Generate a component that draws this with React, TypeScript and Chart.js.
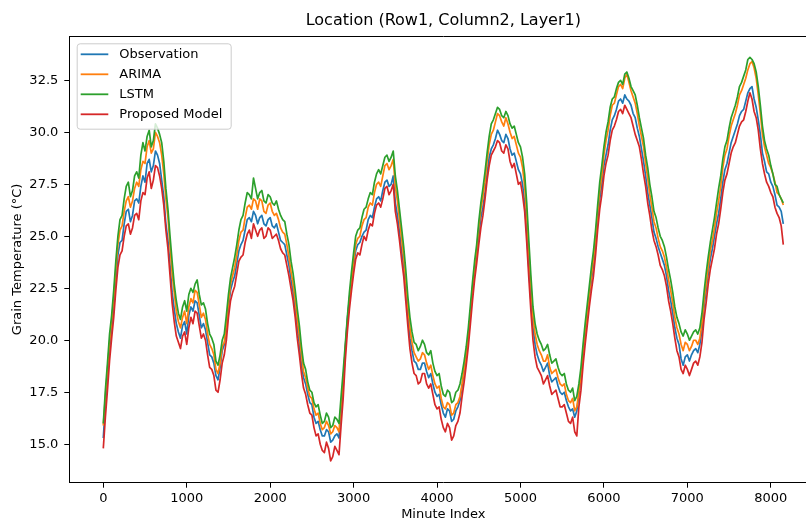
import React, { useEffect, useRef } from "react";
import { Chart, registerables } from "chart.js";

Chart.register(...registerables);

const minuteIndex = [
  0, 25, 50, 75, 100, 125, 150, 175, 200, 225, 250, 275, 300, 325, 350, 375, 400, 425, 450, 475,
  500, 525, 550, 575, 600, 625, 650, 675, 700, 725, 750, 775, 800, 825, 850, 875, 900, 925, 950, 975,
  1000, 1025, 1050, 1075, 1100, 1125, 1150, 1175, 1200, 1225, 1250, 1275, 1300, 1325, 1350, 1375, 1400, 1425, 1450, 1475,
  1500, 1525, 1550, 1575, 1600, 1625, 1650, 1675, 1700, 1725, 1750, 1775, 1800, 1825, 1850, 1875, 1900, 1925, 1950, 1975,
  2000, 2025, 2050, 2075, 2100, 2125, 2150, 2175, 2200, 2225, 2250, 2275, 2300, 2325, 2350, 2375, 2400, 2425, 2450, 2475,
  2500, 2525, 2550, 2575, 2600, 2625, 2650, 2675, 2700, 2725, 2750, 2775, 2800, 2825, 2850, 2875, 2900, 2925, 2950, 2975,
  3000, 3025, 3050, 3075, 3100, 3125, 3150, 3175, 3200, 3225, 3250, 3275, 3300, 3325, 3350, 3375, 3400, 3425, 3450, 3475,
  3500, 3525, 3550, 3575, 3600, 3625, 3650, 3675, 3700, 3725, 3750, 3775, 3800, 3825, 3850, 3875, 3900, 3925, 3950, 3975,
  4000, 4025, 4050, 4075, 4100, 4125, 4150, 4175, 4200, 4225, 4250, 4275, 4300, 4325, 4350, 4375, 4400, 4425, 4450, 4475,
  4500, 4525, 4550, 4575, 4600, 4625, 4650, 4675, 4700, 4725, 4750, 4775, 4800, 4825, 4850, 4875, 4900, 4925, 4950, 4975,
  5000, 5025, 5050, 5075, 5100, 5125, 5150, 5175, 5200, 5225, 5250, 5275, 5300, 5325, 5350, 5375, 5400, 5425, 5450, 5475,
  5500, 5525, 5550, 5575, 5600, 5625, 5650, 5675, 5700, 5725, 5750, 5775, 5800, 5825, 5850, 5875, 5900, 5925, 5950, 5975,
  6000, 6025, 6050, 6075, 6100, 6125, 6150, 6175, 6200, 6225, 6250, 6275, 6300, 6325, 6350, 6375, 6400, 6425, 6450, 6475,
  6500, 6525, 6550, 6575, 6600, 6625, 6650, 6675, 6700, 6725, 6750, 6775, 6800, 6825, 6850, 6875, 6900, 6925, 6950, 6975,
  7000, 7025, 7050, 7075, 7100, 7125, 7150, 7175, 7200, 7225, 7250, 7275, 7300, 7325, 7350, 7375, 7400, 7425, 7450, 7475,
  7500, 7525, 7550, 7575, 7600, 7625, 7650, 7675, 7700, 7725, 7750, 7775, 7800, 7825, 7850, 7875, 7900, 7925, 7950, 7975,
  8000, 8025, 8050, 8075, 8100, 8125, 8150,
];

const observation = [
  15.3, 16.9, 18.2, 19.6, 20.6, 21.5, 22.9, 24.1, 24.7, 24.8, 25.6, 26.2, 26.3, 25.7, 26.0, 26.7, 26.8, 26.6, 27.4, 27.9,
  27.6, 28.5, 28.7, 28.1, 28.4, 29.1, 28.9, 28.5, 27.7, 26.9, 25.6, 24.8, 23.6, 22.3, 21.5, 20.8, 20.4, 20.1, 20.7, 20.9,
  20.3, 21.2, 21.6, 21.4, 21.9, 21.8, 21.2, 20.6, 20.8, 20.5, 19.9, 19.3, 19.2, 18.9, 18.3, 18.1, 18.7, 19.5, 19.8, 20.5,
  21.6, 22.4, 22.8, 23.1, 23.7, 24.3, 24.6, 24.8, 25.3, 25.8, 25.9, 25.7, 26.2, 26.0, 25.6, 25.9, 26.0, 25.6, 25.5, 25.8,
  25.9, 25.5, 25.4, 25.6, 25.2, 24.8, 24.7, 24.6, 24.1, 23.6, 22.9, 22.3, 21.5, 20.6, 19.8, 18.8, 18.2, 17.9, 17.4, 17.0,
  16.9, 16.3, 16.0, 16.1, 15.7, 15.4, 15.4, 15.7, 15.6, 15.1, 15.2, 15.4, 15.5, 15.3, 16.6, 17.8, 19.6, 21.0, 22.0, 22.9,
  23.6, 24.3, 24.6, 24.7, 25.0, 25.2, 25.3, 25.8, 26.0, 25.9, 26.4, 26.8, 26.9, 26.7, 27.2, 27.6, 27.7, 27.4, 27.5, 27.9,
  26.6, 26.0, 25.2, 24.3, 23.6, 22.5, 21.2, 20.1, 19.5, 19.0, 18.9, 18.6, 18.6, 18.9, 18.9, 18.5, 18.2, 18.4, 17.9, 17.5,
  17.3, 17.4, 16.9, 16.5, 16.3, 16.7, 16.6, 16.1, 16.2, 16.6, 16.8, 17.1, 17.8, 18.5, 19.2, 20.1, 21.2, 22.4, 23.3, 24.1,
  25.0, 25.9, 26.4, 27.1, 28.0, 28.8, 29.2, 29.4, 29.7, 30.1, 29.9, 29.6, 29.5, 29.9, 29.7, 29.2, 28.9, 29.0, 28.6, 28.2,
  28.0, 27.5, 26.6, 25.2, 23.5, 21.9, 20.6, 19.8, 19.3, 19.0, 18.8, 18.5, 18.7, 18.9, 18.3, 18.0, 18.1, 18.2, 17.8, 17.5,
  17.4, 17.5, 17.1, 16.8, 16.6, 16.7, 16.3, 16.6, 17.4, 18.2, 19.3, 20.3, 21.2, 22.1, 22.9, 23.6, 24.6, 25.8, 26.8, 27.5,
  28.4, 28.9, 29.4, 30.1, 30.6, 30.8, 31.1, 31.5, 31.6, 31.4, 31.8, 31.6, 31.5, 31.3, 30.9, 30.7, 30.2, 29.8, 29.2, 28.6,
  27.9, 27.1, 26.5, 25.9, 25.2, 24.9, 24.5, 24.2, 23.9, 23.6, 23.1, 22.4, 21.9, 21.3, 20.6, 20.1, 19.8, 19.1, 18.8, 19.2,
  19.3, 19.0, 19.3, 19.5, 19.6, 19.4, 19.8, 20.5, 21.6, 22.4, 23.2, 23.9, 24.4, 25.0, 25.6, 26.1, 26.8, 27.6, 28.2, 28.5,
  29.0, 29.5, 29.8, 30.1, 30.4, 30.8, 31.0, 31.1, 31.5, 31.9, 32.1, 32.2, 31.6, 31.2, 30.6, 29.9, 29.0, 28.6, 28.1, 28.0,
  27.6, 27.4, 27.0, 26.5, 26.4, 26.2, 25.6,
];

const arima = [
  15.9, 17.3, 18.6, 19.9, 20.9, 22.0, 23.4, 24.6, 25.3, 25.5, 26.2, 26.7, 26.9, 26.4, 26.7, 27.3, 27.6, 27.4, 28.2, 28.6,
  28.5, 29.3, 29.6, 29.0, 29.2, 30.0, 29.8, 29.5, 28.9, 28.0, 26.8, 25.9, 24.5, 23.2, 22.3, 21.4, 20.9, 20.6, 21.1, 21.4,
  20.8, 21.6, 22.0, 21.8, 22.4, 22.3, 21.7, 21.1, 21.3, 21.0, 20.3, 19.8, 19.6, 19.3, 18.6, 18.4, 18.9, 19.7, 19.9, 20.7,
  21.8, 22.7, 23.1, 23.5, 24.1, 24.8, 25.2, 25.3, 25.9, 26.4, 26.5, 26.3, 26.8, 26.7, 26.3, 26.8, 26.7, 26.2, 26.1, 26.5,
  26.6, 26.2, 26.0, 26.1, 25.8, 25.4, 25.2, 25.1, 24.6, 24.0, 23.3, 22.7, 21.9, 21.0, 20.2, 19.3, 18.5, 18.2, 17.7, 17.3,
  17.2, 16.7, 16.4, 16.5, 16.0, 15.7, 15.8, 16.1, 15.9, 15.5, 15.6, 15.9, 15.8, 15.6, 16.9, 18.0, 19.5, 20.8, 21.9, 22.9,
  23.8, 24.6, 24.9, 25.0, 25.5, 25.8, 25.9, 26.4, 26.6, 26.5, 27.1, 27.5, 27.6, 27.4, 27.9, 28.4, 28.5, 28.2, 28.4, 28.7,
  27.4, 26.7, 25.8, 24.9, 24.0, 22.9, 21.6, 20.6, 19.9, 19.4, 19.2, 19.0, 19.1, 19.4, 19.3, 18.9, 18.6, 18.8, 18.3, 17.9,
  17.7, 17.8, 17.2, 16.8, 16.7, 17.0, 16.9, 16.4, 16.5, 16.9, 17.0, 17.3, 17.9, 18.6, 19.3, 20.2, 21.3, 22.5, 23.5, 24.3,
  25.4, 26.3, 26.9, 27.6, 28.6, 29.4, 29.9, 30.1, 30.5, 30.9, 30.8, 30.5, 30.3, 30.7, 30.4, 30.0, 29.7, 29.8, 29.4, 29.0,
  28.8, 28.3, 27.4, 26.0, 24.2, 22.6, 21.1, 20.3, 19.8, 19.5, 19.3, 19.0, 19.0, 19.3, 18.7, 18.4, 18.5, 18.6, 18.2, 17.9,
  17.8, 17.9, 17.4, 17.1, 17.0, 17.2, 16.6, 16.8, 17.5, 18.3, 19.4, 20.4, 21.3, 22.2, 23.1, 23.9, 24.9, 26.1, 27.2, 27.9,
  28.9, 29.6, 30.1, 30.8, 31.3, 31.4, 31.8, 32.2, 32.3, 32.1, 32.6, 32.8, 32.4, 32.0, 31.7, 31.4, 30.9, 30.3, 29.8, 29.3,
  28.5, 27.8, 27.0, 26.4, 25.7, 25.4, 24.9, 24.5, 24.3, 24.0, 23.5, 22.9, 22.4, 21.8, 21.1, 20.6, 20.3, 19.8, 19.5, 19.9,
  19.8, 19.5, 19.7, 20.0, 20.0, 19.8, 20.1, 20.8, 21.9, 22.7, 23.5, 24.3, 24.8, 25.4, 26.1, 26.7, 27.4, 28.3, 28.9, 29.2,
  29.8, 30.3, 30.6, 30.9, 31.3, 31.8, 32.0, 32.3, 32.6, 33.0, 33.3, 33.4, 33.1, 32.6, 31.8, 30.9, 29.9, 29.3, 28.9, 28.5,
  28.3, 28.0, 27.6, 27.1, 27.0, 26.8, 26.5,
];

const lstm = [
  16.0, 17.6, 18.9, 20.3, 21.2, 22.4, 23.8, 25.0, 25.8, 26.0, 26.8, 27.4, 27.6, 26.9, 27.2, 27.9, 28.1, 27.8, 28.9, 29.5,
  29.1, 29.8, 30.1, 29.3, 29.6, 30.4, 30.2, 29.9, 29.5, 28.6, 27.3, 26.3, 25.0, 23.8, 22.7, 21.9, 21.3, 21.0, 21.6, 21.9,
  21.4, 22.2, 22.5, 22.3, 22.7, 22.9, 22.2, 21.7, 21.8, 21.5, 20.8, 20.3, 20.1, 19.8, 19.0, 18.8, 19.3, 20.0, 20.3, 21.2,
  22.2, 23.0, 23.5, 24.0, 24.6, 25.3, 25.8, 26.0, 26.6, 27.1, 27.0, 26.8, 27.8, 27.3, 26.8, 27.1, 27.2, 26.7, 26.6, 27.0,
  26.9, 26.6, 26.5, 26.7, 26.3, 26.0, 25.8, 25.7, 25.1, 24.6, 23.8, 23.2, 22.4, 21.5, 20.7, 19.7, 18.9, 18.6, 18.0, 17.6,
  17.5, 17.0, 16.8, 16.9, 16.4, 16.0, 16.1, 16.5, 16.3, 15.8, 15.9, 16.3, 16.2, 16.0, 17.3, 18.5, 19.8, 21.1, 22.3, 23.3,
  24.2, 25.0, 25.3, 25.4, 25.9, 26.3, 26.4, 26.8, 27.1, 27.0, 27.6, 28.0, 28.2, 28.0, 28.4, 28.8, 28.9, 28.6, 28.8, 29.1,
  27.9, 27.2, 26.3, 25.4, 24.5, 23.4, 22.1, 21.1, 20.4, 19.9, 19.8, 19.5, 19.7, 20.0, 19.8, 19.4, 19.3, 19.5, 18.9, 18.5,
  18.3, 18.4, 17.8, 17.4, 17.3, 17.6, 17.5, 17.0, 17.1, 17.5, 17.6, 17.9, 18.4, 19.0, 19.7, 20.6, 21.7, 22.8, 23.8, 24.6,
  25.7, 26.6, 27.3, 28.1, 29.0, 29.8, 30.4, 30.6, 30.9, 31.2, 31.1, 30.8, 30.7, 31.0, 30.8, 30.4, 30.2, 30.3, 29.9, 29.5,
  29.3, 28.8, 28.0, 26.6, 24.8, 23.1, 21.6, 20.8, 20.3, 20.0, 19.8, 19.5, 19.6, 19.8, 19.3, 18.9, 19.0, 19.1, 18.7, 18.4,
  18.3, 18.4, 17.9, 17.6, 17.5, 17.7, 17.1, 17.3, 17.9, 18.7, 19.8, 20.8, 21.7, 22.6, 23.5, 24.3, 25.3, 26.5, 27.6, 28.4,
  29.3, 30.0, 30.5, 31.2, 31.6, 31.7, 32.1, 32.4, 32.5, 32.3, 32.8, 32.9, 32.6, 32.2, 32.0, 31.8, 31.3, 30.7, 30.2, 29.7,
  28.9, 28.3, 27.5, 26.9, 26.2, 25.9, 25.4, 25.0, 24.8, 24.5, 24.0, 23.4, 22.9, 22.3, 21.6, 21.1, 20.8, 20.4, 20.2, 20.5,
  20.3, 20.0, 20.2, 20.4, 20.5, 20.3, 20.6, 21.3, 22.3, 23.2, 24.0, 24.7, 25.3, 25.9, 26.6, 27.3, 27.9, 28.7, 29.3, 29.6,
  30.2, 30.7, 31.0, 31.3, 31.7, 32.2, 32.4, 32.7, 33.0, 33.5, 33.6, 33.5, 33.3, 32.9, 32.2, 31.3, 30.3, 29.6, 29.2, 28.9,
  28.4, 28.0, 27.5, 27.4, 27.0, 26.8, 26.6,
];

const proposedModel = [
  14.8, 16.3, 17.6, 19.0, 20.1, 21.1, 22.4, 23.5, 24.1, 24.3, 25.0, 25.5, 25.6, 25.1, 25.4, 26.0, 26.1, 25.8, 26.7, 27.1,
  27.0, 27.8, 28.1, 27.3, 27.7, 28.4, 28.3, 27.9, 27.3, 26.5, 25.3, 24.4, 23.1, 21.8, 20.9, 20.2, 19.9, 19.6, 20.2, 20.4,
  19.8, 20.6, 21.1, 20.8, 21.4, 21.3, 20.7, 20.1, 20.3, 20.0, 19.3, 18.7, 18.6, 18.3, 17.6, 17.5, 18.1, 18.9, 19.3, 20.0,
  21.1, 21.9, 22.3, 22.6, 23.2, 23.8, 24.0, 24.1, 24.7, 25.1, 25.3, 24.9, 25.6, 25.3, 25.0, 25.3, 25.4, 24.9, 25.0, 25.4,
  25.3, 24.9, 25.0, 25.1, 24.8, 24.4, 24.2, 24.1, 23.6, 23.1, 22.5, 21.9, 21.1, 20.1, 19.3, 18.4, 17.7, 17.4, 16.9, 16.5,
  16.4, 15.8, 15.4, 15.5, 15.0, 14.7, 14.6, 15.1, 14.8, 14.2, 14.4, 14.9, 14.7, 14.5, 15.9, 17.2, 19.0, 20.4, 21.5, 22.4,
  23.2, 23.9, 24.2, 24.1, 24.6, 25.0, 24.8, 25.3, 25.6, 25.5, 26.1, 26.5, 26.6, 26.4, 26.8, 27.3, 27.4, 27.0, 27.2, 27.5,
  26.2, 25.6, 24.8, 23.9, 23.1, 21.9, 20.7, 19.6, 18.9, 18.4, 18.3, 17.9, 18.0, 18.4, 18.4, 17.9, 17.7, 17.9, 17.4, 16.9,
  16.7, 16.8, 16.2, 15.8, 15.6, 16.0, 15.8, 15.2, 15.4, 15.9, 16.1, 16.5, 17.3, 18.0, 18.8, 19.7, 20.8, 21.9, 22.9, 23.7,
  24.6, 25.4, 26.0, 26.8, 27.7, 28.4, 28.9, 29.1, 29.3, 29.6, 29.5, 29.1, 29.0, 29.4, 29.2, 28.6, 28.3, 28.5, 28.0, 27.5,
  27.6, 27.0, 26.2, 24.7, 23.0, 21.4, 20.0, 19.2, 18.7, 18.5, 18.3, 17.9, 18.1, 18.3, 17.8, 17.4, 17.5, 17.6, 17.2, 16.8,
  16.8, 16.9, 16.5, 16.1, 16.0, 16.3, 15.6, 15.4, 16.8, 17.6, 18.8, 19.8, 20.7, 21.6, 22.4, 23.1, 24.1, 25.3, 26.3, 27.0,
  27.9, 28.5, 28.9, 29.6, 30.1, 30.3, 30.6, 31.0, 31.1, 30.9, 31.3, 31.1, 30.9, 30.7, 30.3, 29.9, 29.6, 29.3, 28.7, 28.0,
  27.4, 26.6, 26.0, 25.3, 24.8, 24.5, 24.1, 23.6, 23.4, 23.1, 22.6, 21.9, 21.4, 20.8, 20.1, 19.5, 19.2, 18.6, 18.4, 18.8,
  18.6, 18.3, 18.6, 18.9, 19.0, 18.8, 19.2, 19.9, 21.0, 21.8, 22.7, 23.4, 23.9, 24.4, 25.1, 25.6, 26.3, 27.1, 27.7, 28.0,
  28.5, 29.0, 29.3, 29.5, 29.9, 30.3, 30.5, 30.6, 31.0, 31.5, 31.9, 31.6, 31.0, 30.7, 30.1, 29.2, 28.5, 28.0, 27.6, 27.4,
  27.1, 26.9, 26.4, 26.1, 25.9, 25.5, 24.6,
];

const seriesNames = ["Observation", "ARIMA", "LSTM", "Proposed Model"];
const seriesColors = ["#1f77b4", "#ff7f0e", "#2ca02c", "#d62728"];
const seriesValues = [observation, arima, lstm, proposedModel];

const xTickValues = [0, 1000, 2000, 3000, 4000, 5000, 6000, 7000, 8000];
const yTickValues = [15, 17.5, 20, 22.5, 25, 27.5, 30, 32.5];

const FONT = "DejaVu Sans";
const CANVAS_W = 830;
const CANVAS_H = 525;

const framePlugin = {
  id: "frameSpines",
  afterDatasetsDraw(chart: any) {
    const { ctx, chartArea } = chart;
    ctx.save();
    ctx.strokeStyle = "#000";
    ctx.lineWidth = 1;
    ctx.beginPath();
    const t = Math.round(chartArea.top) + 0.5;
    const r = Math.round(chartArea.right) + 0.5;
    ctx.moveTo(chartArea.left, t);
    ctx.lineTo(r, t);
    ctx.lineTo(r, chartArea.bottom);
    ctx.stroke();
    ctx.restore();
  },
};

const legendPlugin = {
  id: "mplLegend",
  afterDraw(chart: any) {
    const { ctx, chartArea } = chart;
    const x0 = chartArea.left + 7.4;
    const y0 = chartArea.top + 7.3;
    const w = 154;
    const h = 85.4;
    ctx.save();
    ctx.beginPath();
    ctx.roundRect(x0 + 0.5, y0 + 0.5, w, h, 3);
    ctx.fillStyle = "rgba(255,255,255,0.8)";
    ctx.fill();
    ctx.strokeStyle = "#cccccc";
    ctx.lineWidth = 1;
    ctx.stroke();
    ctx.font = `13px "${FONT}"`;
    ctx.textBaseline = "middle";
    ctx.textAlign = "left";
    chart.data.datasets.forEach((ds: any, k: number) => {
      const y = y0 + 11 + k * 20;
      ctx.beginPath();
      ctx.strokeStyle = ds.borderColor;
      ctx.lineWidth = 1.8;
      ctx.moveTo(x0 + 4, y);
      ctx.lineTo(x0 + 31.6, y);
      ctx.stroke();
      ctx.fillStyle = "#000";
      ctx.fillText(ds.label, x0 + 42.6, y);
    });
    ctx.restore();
  },
};

export default function App() {
  const canvasRef = useRef<HTMLCanvasElement | null>(null);

  useEffect(() => {
    document.documentElement.style.overflow = "hidden";
    document.body.style.overflow = "hidden";
    const canvas = canvasRef.current;
    if (!canvas) return;
    Chart.defaults.font.family = FONT;

    const datasets = seriesNames.map((name, k) => ({
      label: name,
      data: minuteIndex.map((x, i) => ({ x, y: seriesValues[k][i] })),
      borderColor: seriesColors[k],
      backgroundColor: seriesColors[k],
      borderWidth: 1.7,
      pointRadius: 0,
      pointHoverRadius: 0,
      tension: 0,
      fill: false,
      order: 3 - k,
      borderJoinStyle: "round" as const,
    }));

    const chart = new Chart(canvas, {
      type: "line",
      data: { datasets },
      options: {
        responsive: false,
        animation: false,
        devicePixelRatio: 1,
        events: [],
        layout: { padding: { left: 0, right: CANVAS_W - 817.3, top: 0, bottom: 0 } },
        plugins: {
          legend: { display: false },
          tooltip: { enabled: false },
          title: {
            display: true,
            text: "Location (Row1, Column2, Layer1)",
            color: "#000",
            font: { size: 16, weight: "normal", family: FONT },
            padding: { top: 11.4, bottom: 5.4 },
            fullSize: false,
          },
        },
        scales: {
          x: {
            type: "linear",
            min: -407.5,
            max: 8557.5,
            afterBuildTicks: (s: any) => {
              s.ticks = xTickValues.map((v) => ({ value: v }));
            },
            afterFit: (s: any) => {
              s.height = 42.3;
            },
            ticks: {
              color: "#000",
              font: { size: 13, family: FONT },
              padding: 3,
              maxRotation: 0,
              autoSkip: false,
              callback: (v: any) => String(v),
            },
            grid: {
              display: true,
              drawOnChartArea: false,
              drawTicks: true,
              tickLength: 5,
              color: "#000",
              tickWidth: 1,
            },
            border: { display: true, color: "#000", width: 1 },
            title: {
              display: true,
              text: "Minute Index",
              color: "#000",
              font: { size: 13, family: FONT },
              padding: { top: 0, bottom: 2.2 },
            },
          },
          y: {
            type: "linear",
            min: 13.15,
            max: 34.63,
            afterBuildTicks: (s: any) => {
              s.ticks = yTickValues.map((v) => ({ value: v }));
            },
            afterFit: (s: any) => {
              s.width = 69.3;
            },
            ticks: {
              color: "#000",
              font: { size: 13, family: FONT },
              padding: 6,
              autoSkip: false,
              callback: (v: any) => Number(v).toFixed(1),
            },
            grid: {
              display: true,
              drawOnChartArea: false,
              drawTicks: true,
              tickLength: 5,
              color: "#000",
              tickWidth: 1,
            },
            border: { display: true, color: "#000", width: 1 },
            title: {
              display: true,
              text: "Grain Temperature (°C)",
              color: "#000",
              font: { size: 13, family: FONT },
              padding: { top: 9.5, bottom: 0 },
            },
          },
        },
      } as any,
      plugins: [framePlugin, legendPlugin],
    });

    return () => {
      chart.destroy();
    };
  }, []);

  return (
    <div
      style={{
        position: "fixed",
        left: 0,
        top: 0,
        width: CANVAS_W,
        height: CANVAS_H,
        background: "#fff",
        overflow: "hidden",
      }}
    >
      <canvas
        ref={canvasRef}
        width={CANVAS_W}
        height={CANVAS_H}
        style={{ display: "block", width: CANVAS_W, height: CANVAS_H }}
      />
    </div>
  );
}
